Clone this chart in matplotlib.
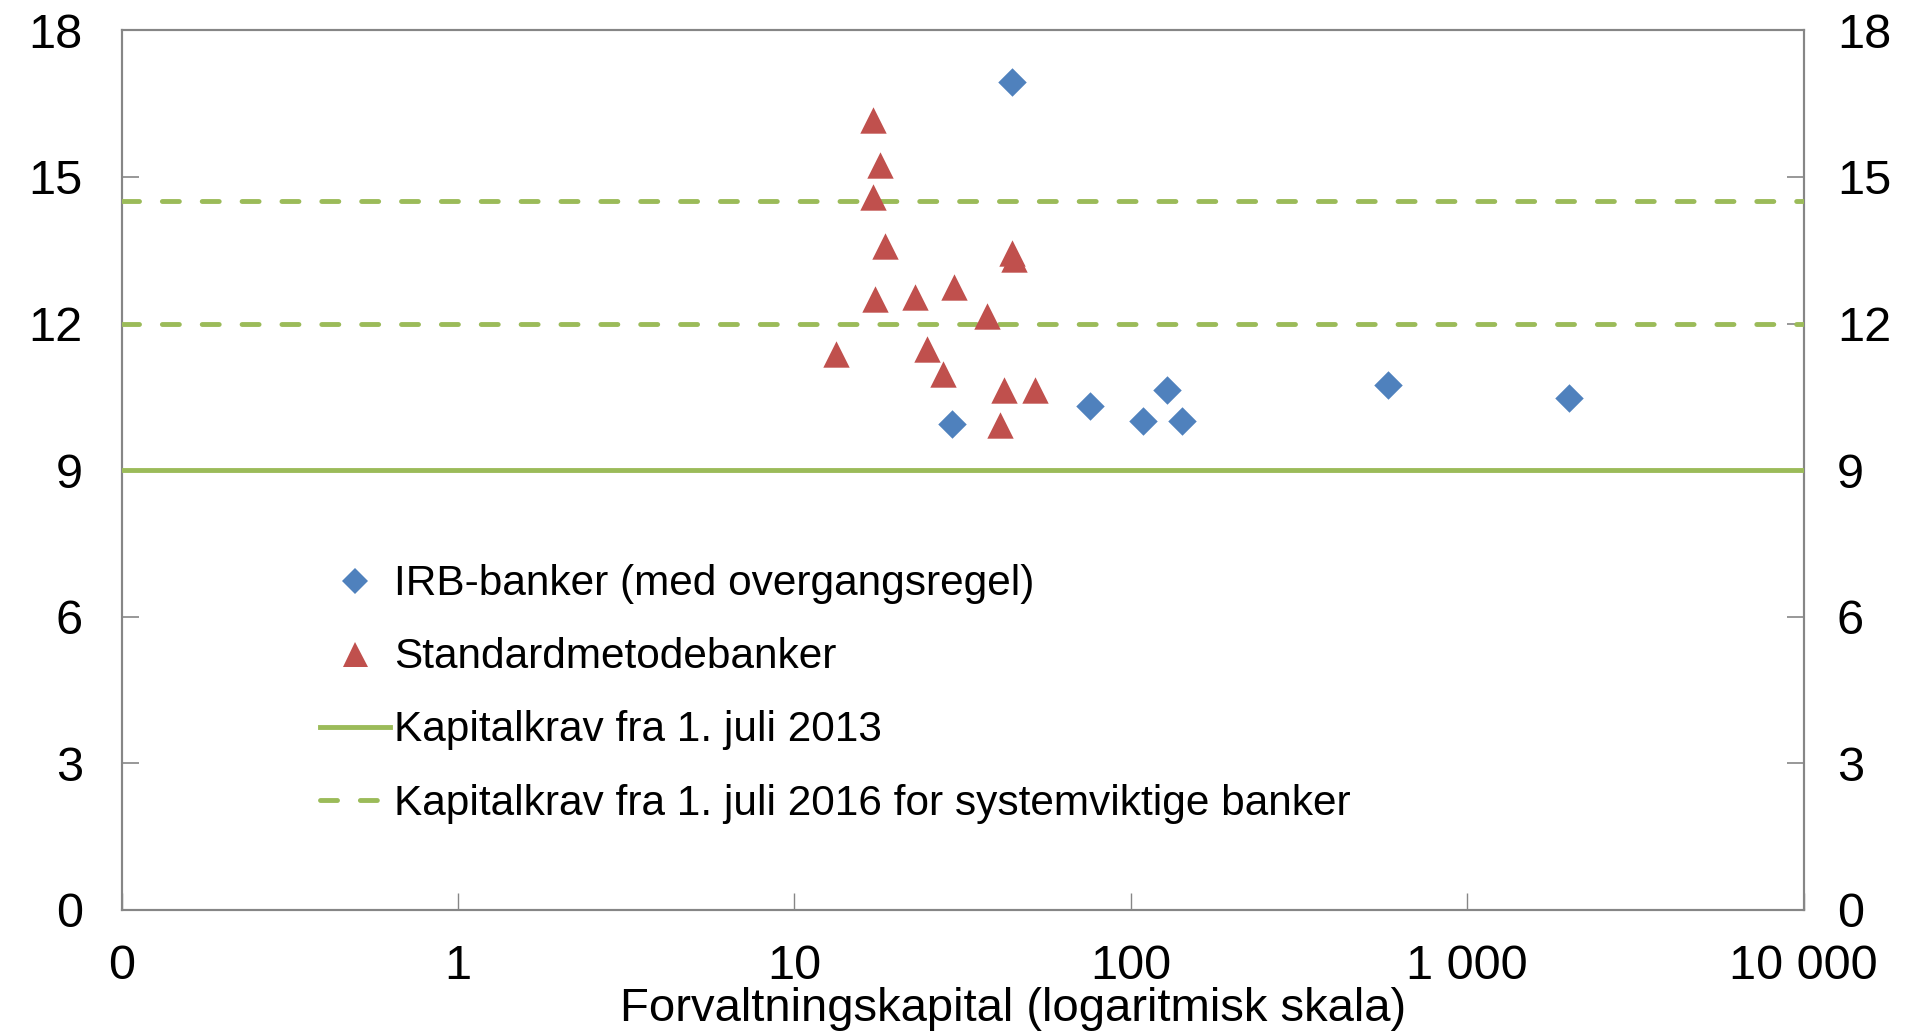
import matplotlib
matplotlib.use("Agg")
from matplotlib import pyplot as plt
from matplotlib.lines import Line2D

plt.rcParams['font.family'] = ['Liberation Sans', 'DejaVu Sans']

# IRB-banker (forvaltningskapital, kapitaldekning)
irb_x = [44.4, 29.4, 75.8, 128, 108.5, 142, 580, 2006]
irb_y = [16.95, 9.94, 10.32, 10.64, 10.01, 10.01, 10.75, 10.48]

# Standardmetodebanker
std_x = [17.1, 17.9, 17.1, 18.6, 44.4, 45.0, 17.3, 22.8, 29.8, 37.3,
         13.3, 24.7, 27.6, 42.0, 51.8, 40.9]
std_y = [16.17, 15.25, 14.59, 13.58, 13.45, 13.33, 12.50, 12.54, 12.75, 12.15,
         11.37, 11.47, 10.96, 10.63, 10.63, 9.93]

krav_2013 = 9
krav_2016 = [12, 14.5]

xticks = [0.1, 1, 10, 100, 1000, 10000]
xtick_labels = ['0', '1', '10', '100', '1 000', '10 000']
yticks = [0, 3, 6, 9, 12, 15, 18]

green = '#9BBB59'
blue = '#4F81BD'
red = '#C0504D'
grey = '#868686'
dash = (0, (3.5, 4.7))

fig = plt.figure(figsize=(19.07, 10.34), dpi=100)
ax = fig.add_axes([0.0638, 0.1202, 0.882, 0.8504])
ax2 = ax.twinx()
# venstre akse over høyre, så linjene dekker tick-merkene
ax.set_zorder(ax2.get_zorder() + 1)
ax.patch.set_visible(False)

ax.axhline(krav_2013, color=green, lw=3.5, zorder=2.8)
for k in krav_2016:
    ax.axhline(k, color=green, lw=3.5, ls=dash, dash_capstyle='round', zorder=2.8)

ax.scatter(std_x, std_y, marker='^', s=19 ** 2, color=red, lw=0, zorder=3)
ax.scatter(irb_x, irb_y, marker='D', s=14.5 ** 2, color=blue, lw=0, zorder=3)

ax.set_xscale('log')
ax.set_xlim(0.1, 10000)
ax.set_ylim(0, 18)
ax.set_xticks(xticks)
ax.set_xticklabels(xtick_labels)
ax.minorticks_off()
ax.set_yticks(yticks)

ax2.set_ylim(0, 18)
ax2.set_yticks(yticks)

for a in (ax, ax2):
    for s in a.spines.values():
        s.set_color(grey)
        s.set_linewidth(1.5)

ax.tick_params(axis='x', direction='in', length=12, width=1, color=grey,
               labelsize=35, pad=25)
ax.tick_params(axis='y', direction='in', length=12, width=1.2, color=grey,
               labelsize=35, pad=28)
ax2.tick_params(axis='y', direction='in', length=12, width=1.2, color=grey,
                labelsize=35, pad=24)

fig.text(0.531, 0.024, 'Forvaltningskapital (logaritmisk skala)',
         ha='center', va='center', fontsize=34)

handles = [
    Line2D([], [], ls='none', marker='D', ms=13, color=blue, mew=0),
    Line2D([], [], ls='none', marker='^', ms=18, color=red, mew=0),
    Line2D([], [], color=green, lw=3.5),
    Line2D([], [], color=green, lw=3.5, ls=dash, dash_capstyle='round'),
]
labels = ['IRB-banker (med overgangsregel)', 'Standardmetodebanker',
          'Kapitalkrav fra 1. juli 2013',
          'Kapitalkrav fra 1. juli 2016 for systemviktige banker']
ax.legend(handles, labels, loc='upper left', bbox_to_anchor=(0.108, 0.412),
          frameon=False, fontsize=30.5, handlelength=1.65, handletextpad=0.1,
          labelspacing=0.78, borderaxespad=0)

fig.savefig('out.png', dpi=100)
